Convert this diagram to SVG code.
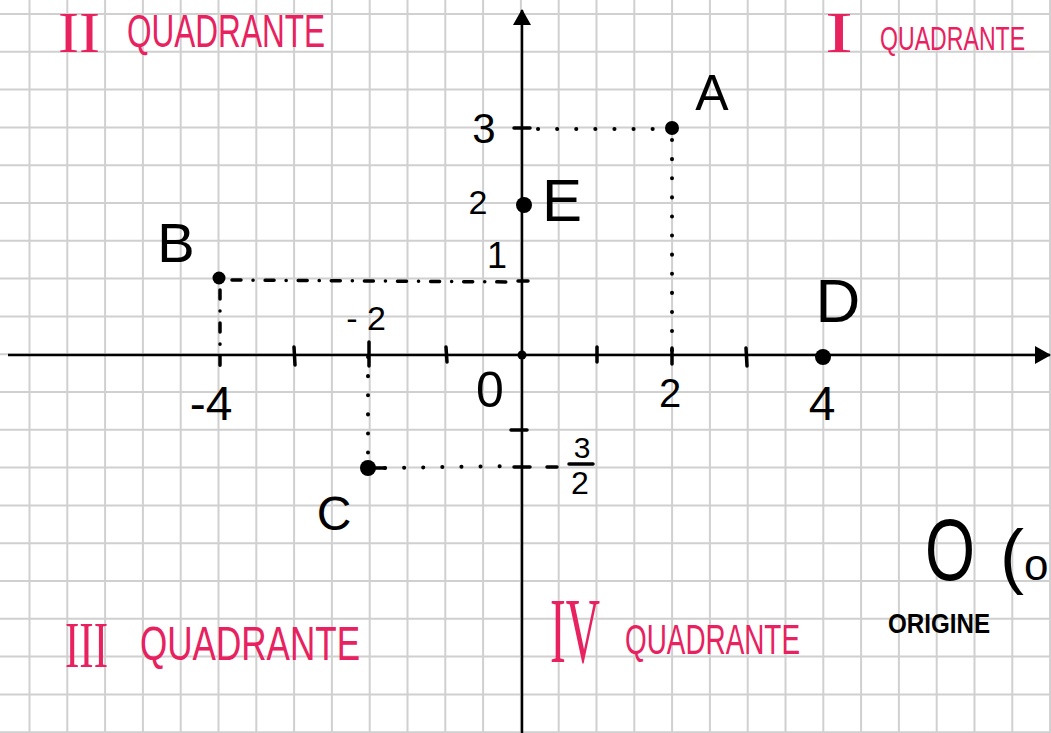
<svg xmlns="http://www.w3.org/2000/svg" width="1051" height="733" viewBox="0 0 1051 733">
<style>
.grid{stroke:#d0d0d0;stroke-width:2;fill:none}
.axis{stroke:#000;stroke-width:2.5;fill:none}
.tick{stroke:#000;stroke-width:3.5;stroke-linecap:round;fill:none}
.dots{stroke:#000;stroke-width:4;stroke-linecap:round;fill:none;stroke-dasharray:0.1 19}
.dashdot{stroke:#000;stroke-width:3.5;stroke-linecap:round;fill:none;stroke-dasharray:9 12 0.1 12}
.pt{fill:#000}
.lbl{font-family:"Liberation Sans",Arial,sans-serif;fill:#000;text-anchor:middle}
.q{font-family:"Liberation Sans",Arial,sans-serif;fill:#e8215f}
.roman{font-family:"Liberation Serif","Times New Roman",serif;fill:#e8215f}
</style>
<defs>
<marker id="arr" viewBox="0 0 16 18" refX="15" refY="9" markerWidth="16" markerHeight="18" markerUnits="userSpaceOnUse" orient="auto">
<path d="M0,0 L16,9 L0,18 Z" fill="#000"/>
</marker>
</defs>
<rect width="1051" height="733" fill="#fff"/>
<g id="grid" class="grid">
<path d="M29.5 0V733M67.3 0V733M105.1 0V733M142.9 0V733M180.7 0V733M218.5 0V733M256.3 0V733M294.1 0V733M331.9 0V733M369.7 0V733M407.5 0V733M445.3 0V733M483.1 0V733M520.9 0V733M558.7 0V733M596.5 0V733M634.3 0V733M672.1 0V733M709.9 0V733M747.7 0V733M785.5 0V733M823.3 0V733M861.1 0V733M898.9 0V733M936.7 0V733M974.5 0V733M1012.3 0V733M1050.1 0V733"/>
<path d="M0 14H1051M0 51.8H1051M0 89.6H1051M0 127.4H1051M0 165.2H1051M0 203H1051M0 240.8H1051M0 278.6H1051M0 316.4H1051M0 354.2H1051M0 392H1051M0 429.8H1051M0 467.6H1051M0 505.4H1051M0 543.2H1051M0 581H1051M0 618.8H1051M0 656.6H1051M0 694.4H1051M0 732.2H1051"/>
</g>
<g id="axes">
<line class="axis" x1="8" y1="355" x2="1050" y2="355" marker-end="url(#arr)"/>
<line class="axis" x1="522" y1="733" x2="522" y2="10" marker-end="url(#arr)"/>
<g class="tick">
<line x1="294" y1="347" x2="295" y2="365"/>
<line x1="446" y1="347" x2="447" y2="362"/>
<line x1="597" y1="347" x2="597" y2="362"/>
<line x1="746" y1="348" x2="747" y2="366"/>
<line x1="514" y1="128" x2="530" y2="128"/>
<line x1="511" y1="430" x2="527" y2="430"/>
<line x1="518" y1="281" x2="528" y2="281"/>
</g>
</g>
<g id="connectors">
<path class="dots" d="M538 129H662"/>
<path class="dots" d="M672 140V355"/>
<line class="tick" x1="672" y1="348" x2="672" y2="364"/>
<path class="dashdot" d="M232 280L515 282"/>
<path class="dashdot" d="M220 290V368"/>
<path class="dots" d="M368 357V454"/>
<line class="tick" x1="369" y1="342" x2="369" y2="366"/>
<path class="dots" d="M385 468L510 466"/>
<line class="tick" x1="372" y1="468" x2="385" y2="468"/>
<line class="tick" x1="514" y1="467" x2="530" y2="467"/>
<line class="tick" x1="547" y1="467" x2="557" y2="467"/>
</g>
<g id="node-A"><circle class="pt" cx="672" cy="128" r="7"/><text class="lbl" x="712" y="110" font-size="50">A</text></g>
<g id="node-E"><circle class="pt" cx="524" cy="205" r="8"/><text class="lbl" x="562" y="221" font-size="60">E</text></g>
<g id="node-B"><circle class="pt" cx="219" cy="278" r="6.5"/><text class="lbl" x="176" y="262" font-size="56">B</text></g>
<g id="node-C"><circle class="pt" cx="368" cy="468" r="8"/><text class="lbl" x="334" y="530" font-size="48">C</text></g>
<g id="node-D"><circle class="pt" cx="823" cy="357" r="8"/><text class="lbl" x="838" y="322" font-size="62">D</text></g>
<g id="node-O"><circle class="pt" cx="522" cy="355" r="4.5"/><text class="lbl" x="490" y="407" font-size="50">0</text></g>
<g id="axis-labels">
<text class="lbl" x="484" y="143" font-size="42">3</text>
<text class="lbl" x="478" y="214" font-size="34">2</text>
<text class="lbl" x="497" y="268" font-size="36">1</text>
<text class="lbl" x="366" y="330" font-size="34">- 2</text>
<text class="lbl" x="211" y="420" font-size="48">-4</text>
<text class="lbl" x="670" y="407" font-size="40">2</text>
<text class="lbl" x="822" y="420" font-size="48">4</text>
<text class="lbl" x="582" y="458" font-size="30">3</text>
<line class="tick" x1="569" y1="464" x2="593" y2="464"/>
<text class="lbl" x="580" y="494" font-size="32">2</text>
</g>
<g id="origin-note">
<text class="lbl" x="925" y="580" font-size="88" style="text-anchor:start" textLength="50" lengthAdjust="spacingAndGlyphs">O</text>
<text class="lbl" x="1000" y="580" style="text-anchor:start"><tspan font-size="72">(</tspan><tspan font-size="44">o</tspan></text>
<text class="lbl" x="888" y="633" font-size="27" font-weight="bold" style="text-anchor:start" textLength="102" lengthAdjust="spacingAndGlyphs">ORIGINE</text>
</g>
<g id="quadrant-II">
<text class="roman" x="58" y="52" font-size="58" textLength="42" lengthAdjust="spacingAndGlyphs">II</text>
<text class="q" x="127" y="47" font-size="46" textLength="198" lengthAdjust="spacingAndGlyphs">QUADRANTE</text>
</g>
<g id="quadrant-I">
<text class="roman" x="825" y="52" font-size="58" textLength="28" lengthAdjust="spacingAndGlyphs">I</text>
<text class="q" transform="translate(880 50) scale(0.68 1)" font-size="34">QUADRANTE</text>
</g>
<g id="quadrant-III">
<text class="roman" x="65" y="667" font-size="66" textLength="43" lengthAdjust="spacingAndGlyphs">III</text>
<text class="q" x="140" y="660" font-size="48" textLength="220" lengthAdjust="spacingAndGlyphs">QUADRANTE</text>
</g>
<g id="quadrant-IV">
<text class="roman" transform="translate(550 662) scale(1 1.45)" font-size="64" textLength="50" lengthAdjust="spacingAndGlyphs">IV</text>
<text class="q" x="625" y="654" font-size="42" textLength="175" lengthAdjust="spacingAndGlyphs">QUADRANTE</text>
</g>
</svg>
